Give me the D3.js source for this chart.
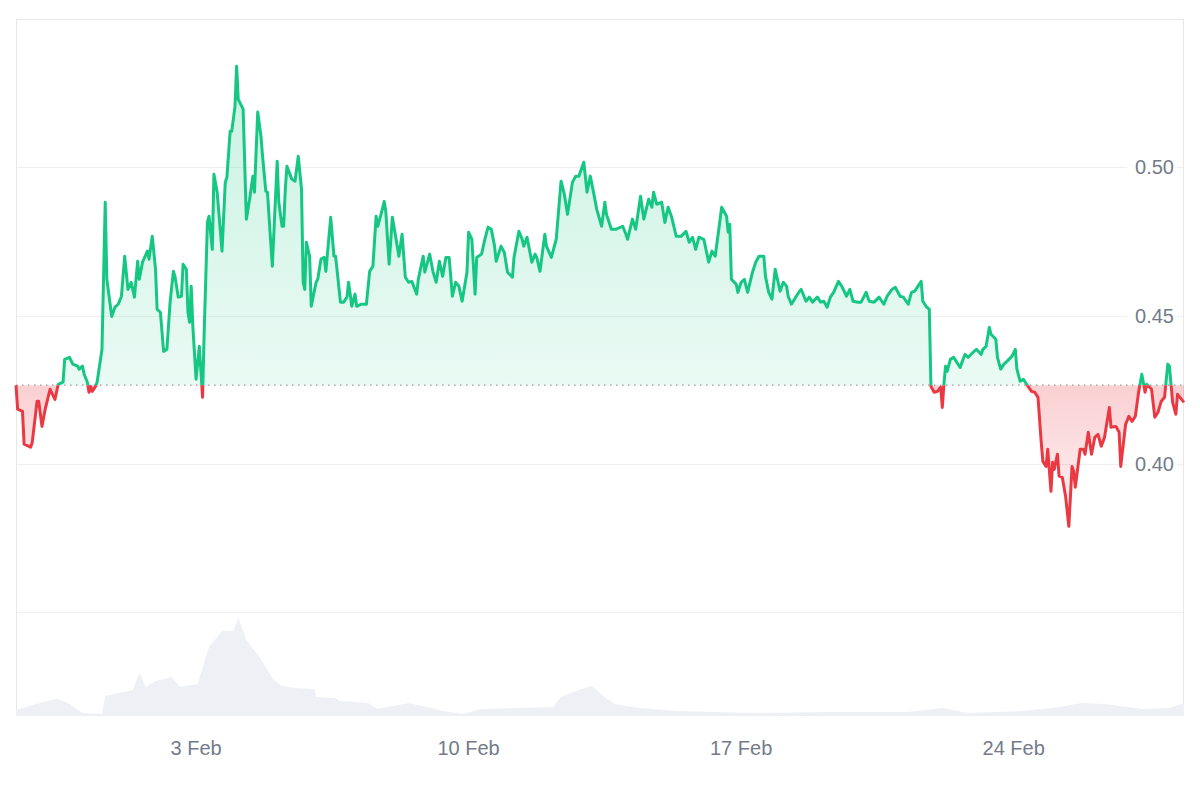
<!DOCTYPE html>
<html>
<head>
<meta charset="utf-8">
<script src="https://cdn.jsdelivr.net/npm/d3@7"></script>
<style>
  html, body { margin: 0; padding: 0; background: #fff; }
  svg { display: block; font-family: "Liberation Sans", Arial, sans-serif; }
</style>
</head>
<body>
<div id="chart"></div>
<script>
// price series: hours since start, price in USD
const startTime = new Date(2025, 0, 29, 9);
const hours = [
  0,1,4,5,9,10,13,14,16,18, 21,23,24,26,29,30,33,35,38,39,
  41,42,44,45,46,47,49,50,53,55, 56,59,61,63,65,67,69,71,73,75,
  76,78,81,82,84,86,87,89,91,93, 95,97,98,100,102,103,105,106,107,108,
  109,111,113,115,116,118,119,121,122,124, 127,129,130,132,133,135,136,137,140,142,
  144,146,147,149,151,152,154,155,158,161, 162,164,165,166,167,170,172,174,176,177,
  178,179,181,182,185,186,188,190,191,194, 196,197,200,202,204,205,207,209,210,213,
  216,218,220,222,223,225,227,228,230,232, 234,236,238,240,242,244,247,248,251,252,
  255,257,259,261,263,265,267,269,271,273, 275,278,279,281,283,284,287,289,291,293,
  295,296,299,301,303,306,307,310,312,313, 315,318,320,321,323,326,327,330,333,336,
  338,340,343,345,347,350,352,354,356,358, 361,363,364,367,370,374,376,377,380,382,
  385,387,390,392,393,395,398,400,402,404, 407,410,413,415,417,419,421,424,427,429,
  431,433,435,438,439,440,441,444,445,447, 449,451,454,456,458,461,462,464,466,468,
  471,473,475,476,478,481,483,484,487,489, 491,494,496,498,500,502,504,507,509,512,
  514,516,519,521,524,526,529,532,535,537, 540,542,545,547,550,552,554,558,559,
  561,563,564,566,568,570,571,572,573,574, 576,578,580,582,585,587,590,592,595,596,
  598,600,601,604,605,607,609,611,614,616, 617,619,621,623,626,628,630,632,633,635,
  636,638,639,640,642,643,645,647,649,651, 652,653,656,658,659,661,663,665,667,669,
  671,674,675,678,680,681,684,686,688,690, 692,694,696,697,700,702,704,706,708,710,
  711,713,715,716,720
];
const prices = [
  .4265,.4184,.4177,.4066,.4056,.4072,.4211,.4211,.4126,.4184, .4251,.4228,.4217,.4268,.4275,.4352,.4359,.4336,.4329,.4319,
  .4329,.4302,.4275,.4241,.4261,.4244,.4261,.4275,.4386,.4882, .4622,.4497,.4528,.4538,.4565,.4700,.4588,.4612,.4562,.4683,
  .4622,.4680,.4717,.4690,.4767,.4656,.4521,.4511,.4379,.4386, .4545,.4649,.4632,.4562,.4565,.4673,.4656,.4511,.4477,.4599,
  .4464,.4285,.4396,.4224,.4443,.4814,.4835,.4723,.4976,.4916, .4717,.4949,.4966,.5121,.5121,.5206,.5341,.5229,.5196,.4825,
  .4892,.4970,.4916,.5186,.5105,.5037,.4919,.4916,.4666,.5020, .4882,.4801,.4801,.4926,.5003,.4960,.4953,.5037,.4926,.4612,
  .4588,.4747,.4700,.4531,.4612,.4622,.4690,.4696,.4649,.4831, .4700,.4700,.4545,.4545,.4562,.4612,.4531,.4572,.4531,.4538,
  .4538,.4649,.4666,.4835,.4801,.4841,.4885,.4848,.4673,.4831, .4767,.4700,.4774,.4629,.4612,.4615,.4572,.4622,.4700,.4646,
  .4707,.4649,.4612,.4683,.4632,.4696,.4696,.4565,.4612,.4599, .4548,.4646,.4781,.4757,.4572,.4696,.4707,.4757,.4798,.4791,
  .4734,.4683,.4734,.4713,.4646,.4629,.4696,.4784,.4757,.4734, .4764,.4680,.4707,.4696,.4649,.4774,.4734,.4696,.4757,.4953,
  .4909,.4841,.4949,.4970,.4970,.5017,.4916,.4970,.4916,.4858, .4801,.4882,.4841,.4791,.4791,.4801,.4774,.4757,.4825,.4791,
  .4902,.4825,.4892,.4865,.4916,.4875,.4882,.4814,.4865,.4835, .4767,.4767,.4784,.4747,.4764,.4723,.4764,.4757,.4680,.4717,
  .4700,.4781,.4865,.4835,.4781,.4808,.4622,.4605,.4578,.4612, .4622,.4578,.4646,.4680,.4700,.4700,.4632,.4578,.4555,.4656,
  .4582,.4612,.4599,.4565,.4538,.4565,.4582,.4588,.4548,.4562, .4545,.4562,.4545,.4548,.4528,.4562,.4578,.4615,.4599,.4565,
  .4588,.4548,.4545,.4545,.4578,.4548,.4545,.4562,.4538,.4565, .4588,.4595,.4565,.4562,.4538,.4578,.4582,.4615,.4548,
  .4531,.4521,.4261,.4241,.4244,.4258,.4190,.4268,.4329,.4312, .4352,.4359,.4342,.4325,.4369,.4359,.4376,.4386,.4369,.4386,
  .4396,.4460,.4437,.4420,.4359,.4319,.4336,.4346,.4363,.4386, .4319,.4278,.4285,.4268,.4244,.4241,.4224,.4072,.4008,.3991,
  .4049,.3907,.4005,.3981,.4032,.3958,.3954,.3890,.3789,.3991, .3975,.3921,.4049,.4049,.4032,.4106,.4032,.4089,.4099,.4059,
  .4089,.4190,.4123,.4126,.4106,.3991,.4133,.4160,.4143,.4160, .4241,.4302,.4241,.4268,.4251,.4157,.4174,.4211,.4224,.4336,
  .4329,.4207,.4167,.4234,.4207
];

// volume series (millions), sampled at its own hours
const volHours = [0,10,25,31,41,53,55,72,76,80,86,96,101,112,119,127,134,137,142,150,159,164,172,184,185,197,199,217,223,242,256,263,275,287,310,331,336,345,355,362,369,384,408,454,502,549,572,586,620,639,657,671,695,711,720];
const volumes  = [3,5.5,8.5,7,1.5,1,10,13,21.5,14.5,17.5,19.5,14.5,16,34.5,42.5,42.5,49,38,29.5,18,15,14,13.5,9.5,9,7.5,6.5,3.5,6.5,4,2.5,1,3.5,4,4.5,9.5,12.5,15,10,6,4,2.5,1.5,2,2,4,1.5,2.5,4,6.5,6,3.5,4,6.5];

const priceTicks = [0.40, 0.45, 0.50];
const dateTicks = ["2025-02-03", "2025-02-10", "2025-02-17", "2025-02-24"];

const width = 1200, height = 800;
const m = { left: 16, right: 1184, top: 19, priceBottom: 612, volBottom: 716 };
const green = "#16c784", red = "#ea3943";

const data = hours.map((h, i) => ({ t: d3.timeHour.offset(startTime, h), p: prices[i] }));
const vol = volHours.map((h, i) => ({ t: d3.timeHour.offset(startTime, h), v: volumes[i] }));
const openPrice = prices[0];

const x = d3.scaleTime()
  .domain([startTime, d3.timeHour.offset(startTime, 720)])
  .range([m.left, m.right]);
const y = d3.scaleLinear().domain([0.35, 0.55]).range([m.priceBottom, m.top]);
const yVol = d3.scaleLinear().domain([0, 52]).range([m.volBottom, m.priceBottom]);
const baseY = y(openPrice);

const svg = d3.select("#chart").append("svg")
  .attr("width", width).attr("height", height);

const defs = svg.append("defs");
const gGreen = defs.append("linearGradient").attr("id", "gGreen")
  .attr("gradientUnits", "userSpaceOnUse").attr("x1", 0).attr("x2", 0).attr("y1", m.top).attr("y2", baseY);
gGreen.append("stop").attr("offset", 0).attr("stop-color", green).attr("stop-opacity", 0.25);
gGreen.append("stop").attr("offset", 1).attr("stop-color", green).attr("stop-opacity", 0.09);
const gRed = defs.append("linearGradient").attr("id", "gRed")
  .attr("gradientUnits", "userSpaceOnUse").attr("x1", 0).attr("x2", 0).attr("y1", baseY).attr("y2", y(0.378));
gRed.append("stop").attr("offset", 0).attr("stop-color", red).attr("stop-opacity", 0.24);
gRed.append("stop").attr("offset", 1).attr("stop-color", red).attr("stop-opacity", 0.05);

defs.append("clipPath").attr("id", "above").append("rect")
  .attr("x", 0).attr("y", 0).attr("width", width).attr("height", baseY);
defs.append("clipPath").attr("id", "below").append("rect")
  .attr("x", 0).attr("y", baseY).attr("width", width).attr("height", height - baseY);

// grid + frame
const grid = svg.append("g").attr("stroke", "#efefef").attr("stroke-width", 1).attr("shape-rendering", "crispEdges");
grid.selectAll("line").data(priceTicks.concat([0.35])).enter().append("line")
  .attr("x1", m.left).attr("x2", m.right)
  .attr("y1", d => Math.round(y(d)) + 0.5).attr("y2", d => Math.round(y(d)) + 0.5);
svg.append("path")
  .attr("d", `M${m.left + 0.5},${m.volBottom}V${m.top + 0.5}H${m.right - 0.5}V${m.volBottom}`)
  .attr("fill", "none").attr("stroke", "#e8e8e8").attr("shape-rendering", "crispEdges");

// volume
svg.append("path").datum(vol)
  .attr("fill", "#eef0f5")
  .attr("d", d3.area().x(d => x(d.t)).y0(m.volBottom).y1(d => yVol(d.v)));

// price areas
const area = d3.area().x(d => x(d.t)).y0(baseY).y1(d => y(d.p));
svg.append("path").datum(data).attr("clip-path", "url(#above)")
  .attr("fill", "url(#gGreen)").attr("d", area);
svg.append("path").datum(data).attr("clip-path", "url(#below)")
  .attr("fill", "url(#gRed)").attr("d", area);

// baseline
svg.append("line")
  .attr("x1", m.left).attr("x2", m.right).attr("y1", baseY).attr("y2", baseY)
  .attr("stroke", "#9a9a9a").attr("stroke-width", 1.2).attr("stroke-dasharray", "1.5,4.5");

// price line
const line = d3.line().x(d => x(d.t)).y(d => y(d.p));
svg.append("path").datum(data).attr("clip-path", "url(#above)")
  .attr("fill", "none").attr("stroke", green).attr("stroke-width", 3)
  .attr("stroke-linejoin", "round").attr("d", line);
svg.append("path").datum(data).attr("clip-path", "url(#below)")
  .attr("fill", "none").attr("stroke", red).attr("stroke-width", 3)
  .attr("stroke-linejoin", "round").attr("d", line);

// y labels
const yl = svg.append("g").selectAll("g").data(priceTicks).enter().append("g")
  .attr("transform", d => `translate(1174,${y(d)})`);
yl.append("rect").attr("x", -47).attr("y", -12).attr("width", 50).attr("height", 24).attr("fill", "#fff");
yl.append("text").attr("text-anchor", "end").attr("dy", "0.35em")
  .attr("font-size", 20).attr("fill", "#737b8a")
  .text(d => d3.format(".2f")(d));

// x labels
const parse = d3.timeParse("%Y-%m-%d");
const fmt = d3.timeFormat("%-d %b");
svg.append("g").selectAll("text").data(dateTicks).enter().append("text")
  .attr("x", d => x(parse(d)))
  .attr("y", 755)
  .attr("text-anchor", "middle").attr("font-size", 20).attr("fill", "#737b8a")
  .text(d => fmt(parse(d)));
</script>
</body>
</html>
